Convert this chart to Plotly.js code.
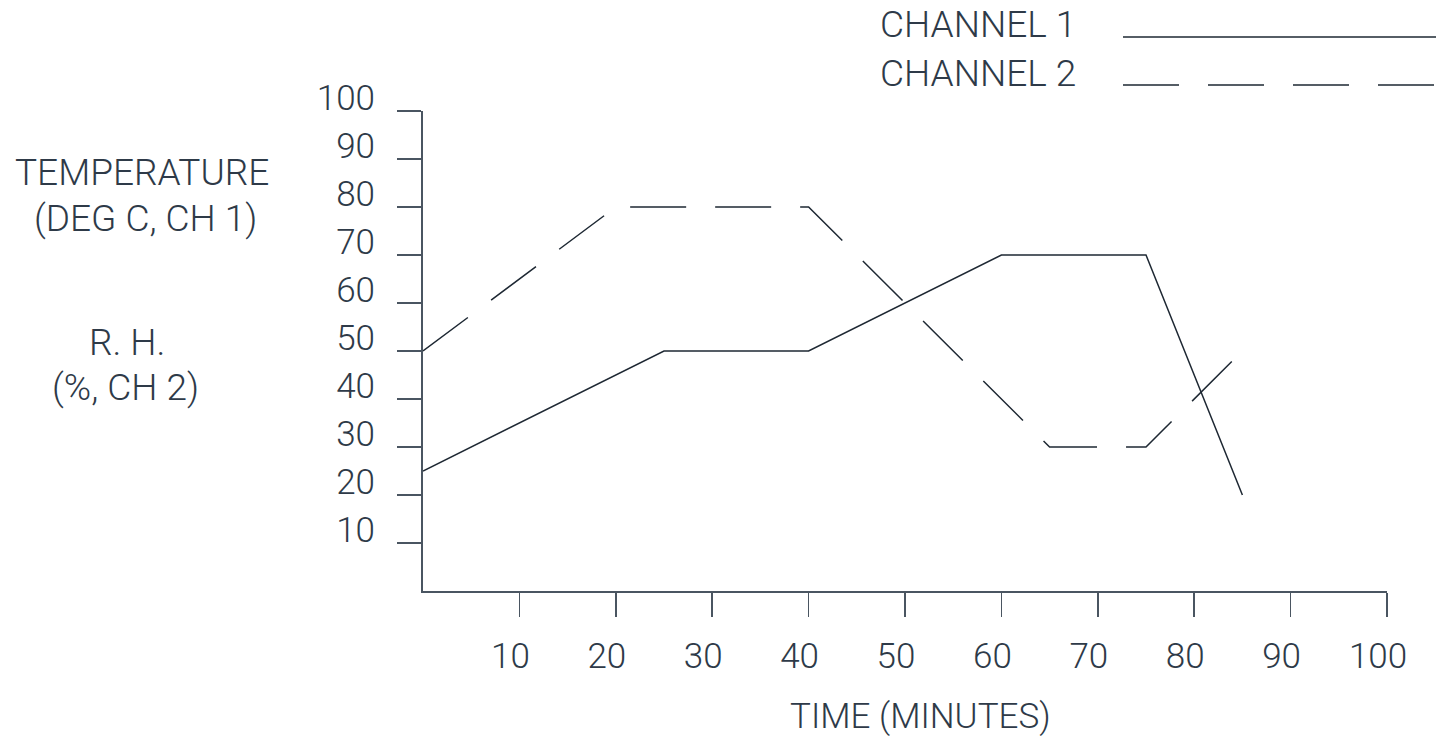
<!DOCTYPE html>
<html>
<head>
<meta charset="utf-8">
<script src="https://cdn.plot.ly/plotly-3.0.1.min.js"></script>
<style>html,body{margin:0;padding:0;background:#fff;}#chart{width:1447px;height:740px;}</style>
</head>
<body>
<div id="chart"></div>
<script>
// Data
const ch1Time = [0, 25, 40, 60, 75, 85];
const ch1Temp = [25, 50, 50, 70, 70, 20];
const ch2Time = [0, 20, 40, 65, 75, 85];
const ch2RH = [50, 80, 80, 30, 30, 50];
const xTicks = [10, 20, 30, 40, 50, 60, 70, 80, 90, 100];
const yTicks = [10, 20, 30, 40, 50, 60, 70, 80, 90, 100];
const seriesNames = ["CHANNEL 1", "CHANNEL 2"];

const FONT = "Roboto, 'Liberation Sans', sans-serif";
const TXT = "#2e3a48";
const LINE = "#1e2833";
const AXIS = "#4a5561";
const DASH = "56px,29px";

const traces = [
  {x: ch1Time, y: ch1Temp, mode: "lines", name: seriesNames[0],
   line: {color: LINE, width: 1.5}, hoverinfo: "skip", showlegend: false},
  {x: ch2Time, y: ch2RH, mode: "lines", name: seriesNames[1],
   line: {color: LINE, width: 1.5, dash: DASH}, hoverinfo: "skip", showlegend: false}
];

function px2x(px){ return (px - 423) / 964; }
function px2y(py){ return (591 - py) / 480; }

const annFont = {family: FONT, size: 37, color: TXT, weight: 300};
const annotations = [
  {text: "TEMPERATURE", x: px2x(142), y: px2y(172)},
  {text: "(DEG C, CH 1)", x: px2x(145), y: px2y(218)},
  {text: "R. H.", x: px2x(127), y: px2y(342)},
  {text: "(%, CH 2)", x: px2x(125), y: px2y(387)},
  {text: "TIME (MINUTES)", x: px2x(920), y: px2y(716), font: {family: FONT, size: 35, color: TXT, weight: 300}}
].map(a => Object.assign({xref: "paper", yref: "paper", xanchor: "center", yanchor: "middle",
  showarrow: false, font: annFont}, a));

annotations.push({text: seriesNames[0], x: px2x(878), y: px2y(24), xref: "paper", yref: "paper",
  xanchor: "left", yanchor: "middle", showarrow: false, font: annFont});
annotations.push({text: seriesNames[1], x: px2x(878), y: px2y(73), xref: "paper", yref: "paper",
  xanchor: "left", yanchor: "middle", showarrow: false, font: annFont});

const shapes = [
  {type: "line", xref: "paper", yref: "paper", x0: px2x(1123), x1: px2x(1436), y0: px2y(37), y1: px2y(37),
   line: {color: LINE, width: 1.5}},
  {type: "line", xref: "paper", yref: "paper", x0: px2x(1123), x1: px2x(1437), y0: px2y(85), y1: px2y(85),
   line: {color: LINE, width: 1.5, dash: DASH}}
];

const tickFont = {family: FONT, size: 35, color: TXT, weight: 300};

const layout = {
  width: 1447, height: 740,
  margin: {l: 423, r: 60, t: 111, b: 149, pad: 0},
  paper_bgcolor: "#fff", plot_bgcolor: "#fff",
  showlegend: false,
  xaxis: {range: [0, 100], tickvals: xTicks, ticktext: xTicks.map(String),
    showgrid: false, zeroline: false, showline: true, linecolor: AXIS, linewidth: 2,
    ticks: "outside", ticklen: 24, tickwidth: 1.5, tickcolor: AXIS,
    tickfont: tickFont, ticklabelstandoff: 9, ticklabelshift: -9, fixedrange: true},
  yaxis: {range: [0, 100], tickvals: yTicks, ticktext: yTicks.map(String),
    showgrid: false, zeroline: false, showline: true, linecolor: AXIS, linewidth: 2,
    ticks: "outside", ticklen: 24, tickwidth: 1.5, tickcolor: AXIS,
    tickfont: tickFont, ticklabelstandoff: 15, ticklabelshift: -13, fixedrange: true},
  annotations: annotations,
  shapes: shapes
};

Plotly.newPlot("chart", traces, layout, {staticPlot: true, displayModeBar: false});
</script>
</body>
</html>
